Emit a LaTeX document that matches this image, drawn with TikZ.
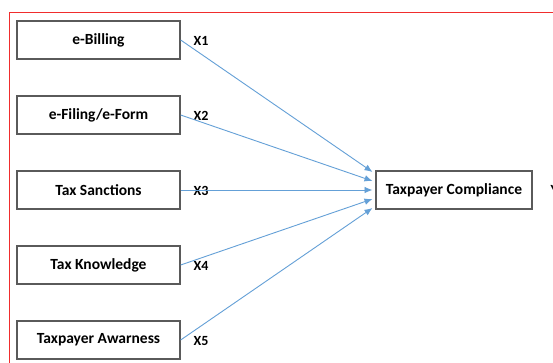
\documentclass[tikz,border=0pt]{standalone}
\usepackage{fontspec}
\setmainfont{Carlito}
\usetikzlibrary{arrows.meta}
\definecolor{redline}{RGB}{240,45,45}
\definecolor{arrowblue}{RGB}{100,160,215}
\definecolor{boxgray}{RGB}{90,90,90}
\tikzset{
  varbox/.style={draw=boxgray, line width=1.3pt, minimum width=163pt, minimum height=38pt, inner sep=0pt, font=\fontsize{15.5}{17}\selectfont\bfseries},
  depbox/.style={varbox, minimum width=156pt},
  xlabel/.style={anchor=west, inner sep=0pt, font=\fontsize{14}{16}\selectfont\bfseries},
  link/.style={draw=arrowblue, line width=0.9pt, -{Latex[length=8pt,width=6.5pt]}}
}
\begin{document}
\begin{tikzpicture}[x=1pt,y=-1pt]
\useasboundingbox (0,0) rectangle (553,363);
\clip (0,0) rectangle (553,363);
\fill[white] (0,0) rectangle (553,363);
\draw[redline, line width=1.4pt] (9.5,363) -- (9.5,12.5) -- (553,12.5);
\node[varbox] (b1) at (98.5,40) {e-Billing};
\node[varbox] (b2) at (98.5,115) {e-Filing/e-Form};
\node[varbox] (b3) at (98.5,190) {Tax Sanctions};
\node[varbox] (b4) at (98.5,265) {Tax Knowledge};
\node[varbox] (b5) at (98.5,340) {Taxpayer Awarness};
\node[depbox] (t) at (454,190) {Taxpayer Compliance};
\node[xlabel] (l1) at (193.5,41) {X1};
\node[xlabel] (l2) at (193.5,116) {X2};
\node[xlabel] (l3) at (193.5,191) {X3};
\node[xlabel] (l4) at (193.5,266) {X4};
\node[xlabel] (l5) at (193.5,341) {X5};
\node[xlabel] (y) at (550.5,190) {Y};
\coordinate (e1) at (372.5,172);
\coordinate (e2) at (372.5,181);
\coordinate (e3) at (372.5,190);
\coordinate (e4) at (372.5,199);
\coordinate (e5) at (372.5,208);
\draw[link] (b1.east) -- (e1);
\draw[link] (b2.east) -- (e2);
\draw[link] (b3.east) -- (e3);
\draw[link] (b4.east) -- (e4);
\draw[link] (b5.east) -- (e5);
\end{tikzpicture}
\end{document}
